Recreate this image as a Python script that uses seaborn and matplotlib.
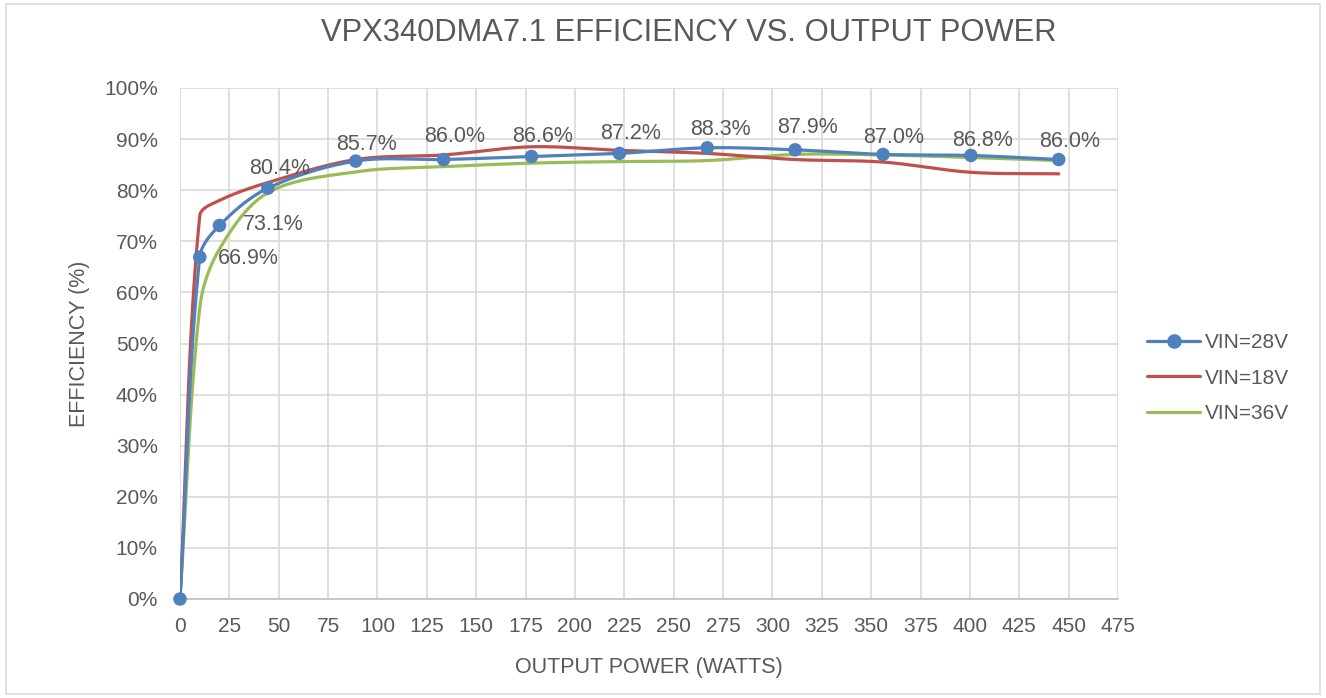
import numpy as np
import pandas as pd
import matplotlib
matplotlib.use('Agg')
import matplotlib.pyplot as plt
import seaborn as sns
from matplotlib.lines import Line2D
from matplotlib.patches import Rectangle
from matplotlib.ticker import FuncFormatter, MultipleLocator

# values
power = [0, 10, 20, 44.5, 89, 133.5, 178, 222.5, 267, 311.5, 356, 400.5, 445]
eff_28v = [0, 66.9, 73.1, 80.4, 85.7, 86.0, 86.6, 87.2, 88.3, 87.9, 87.0, 86.8, 86.0]
eff_18v = [0, 75.0, 78.0, 81.5, 86.0, 86.9, 88.5, 87.8, 87.2, 86.0, 85.5, 83.5, 83.2]
eff_36v = [0, 57.0, 68.5, 79.5, 83.6, 84.6, 85.3, 85.6, 85.8, 87.0, 86.9, 86.4, 85.8]
series_names = ['VIN=28V', 'VIN=18V', 'VIN=36V']
colors = ['#4F81BD', '#C0504D', '#9BBB59']

# label placement for the 28V data labels (pixel offsets from each point)
label_dx = [None, 18, 23, 12, 11, 11, 11, 11, 13, 12, 11, 12, 11]
label_dy = [None, -1, 1, 20, 17, 23, 20, 20, 18, 22, 17, 15, 18]
label_ha = [None, 'left', 'left', 'center', 'center', 'center', 'center', 'center',
            'center', 'center', 'center', 'center', 'center']

TEXT = '#595959'
PX_X = 1.974   # pixels per watt
PX_Y = 5.11    # pixels per percent


def smooth(xs, ys, n=40):
    # excel-ish smoothed line, bezier with tangents scaled by segment length (screen space)
    p = np.column_stack([np.array(xs) * PX_X, np.array(ys) * PX_Y]).astype(float)
    pts = np.vstack([p[0], p, p[-1]])
    t = np.linspace(0, 1, n)[:, None]
    segs = []
    for i in range(1, len(pts) - 2):
        p0, p1, p2, p3 = pts[i - 1], pts[i], pts[i + 1], pts[i + 2]
        d01 = np.linalg.norm(p1 - p0)
        d12 = np.linalg.norm(p2 - p1)
        d23 = np.linalg.norm(p3 - p2)
        b1 = p1 + (p2 - p0) * d12 / (d01 + d12) / 3
        b2 = p2 - (p3 - p1) * d12 / (d12 + d23) / 3
        seg = (1 - t) ** 3 * p1 + 3 * (1 - t) ** 2 * t * b1 + 3 * (1 - t) * t ** 2 * b2 + t ** 3 * p2
        segs.append(seg if i == 1 else seg[1:])
    out = np.vstack(segs)
    return out[:, 0] / PX_X, out[:, 1] / PX_Y


def main():
    sns.set_style('white')
    plt.rcParams['font.family'] = ['Liberation Sans', 'DejaVu Sans']

    frames = []
    for name, vals in zip(series_names, [eff_28v, eff_18v, eff_36v]):
        sx, sy = smooth(power, vals)
        frames.append(pd.DataFrame({'power': sx, 'eff': sy, 'series': name}))
    df = pd.concat(frames, ignore_index=True)

    fig = plt.figure(figsize=(13.26, 6.98), dpi=100)
    ax = fig.add_axes([180 / 1326, 1 - 599 / 698, (1118 - 180) / 1326, (599 - 88) / 698])

    # draw order: 28V on top
    for name, c in zip(series_names[::-1], colors[::-1]):
        sub = df[df['series'] == name]
        sns.lineplot(data=sub, x='power', y='eff', sort=False, estimator=None,
                     color=c, linewidth=2.3, ax=ax, legend=False, zorder=3)
    pts = pd.DataFrame({'power': power, 'eff': eff_28v})
    sns.scatterplot(data=pts, x='power', y='eff', color=colors[0], s=95,
                    edgecolor='none', ax=ax, zorder=5, legend=False, clip_on=False)

    for i, (x, y) in enumerate(zip(power, eff_28v)):
        if label_dx[i] is None:
            continue
        ax.annotate(f'{y:.1f}%', (x, y), xytext=(label_dx[i], label_dy[i]),
                    textcoords='offset pixels', ha=label_ha[i], va='center',
                    fontsize=15.5, color=TEXT, zorder=6)

    ax.set_xlim(0, 475)
    ax.set_ylim(0, 100)
    ax.xaxis.set_major_locator(MultipleLocator(25))
    ax.yaxis.set_major_locator(MultipleLocator(10))
    ax.yaxis.set_major_formatter(FuncFormatter(lambda v, _: f'{v:.0f}%'))
    ax.grid(True, color='#D9D9D9', linewidth=1.2)
    ax.set_axisbelow(True)
    for side in ['top', 'right', 'left']:
        ax.spines[side].set_visible(False)
    ax.spines['bottom'].set_color('#BFBFBF')
    ax.spines['bottom'].set_linewidth(1.2)
    ax.tick_params(axis='both', length=0, labelsize=15, labelcolor=TEXT)
    ax.tick_params(axis='y', pad=16)
    ax.tick_params(axis='x', pad=13)

    ax.set_xlabel('OUTPUT POWER (WATTS)', fontsize=15.5, color=TEXT, labelpad=15)
    ax.set_ylabel('EFFICIENCY (%)', fontsize=15.5, color=TEXT, labelpad=10)
    fig.text(689 / 1326, 1 - 33 / 698, 'VPX340DMA7.1 EFFICIENCY VS. OUTPUT POWER',
             ha='center', va='center', fontsize=22.2, color=TEXT)

    handles = [Line2D([], [], color=colors[0], linewidth=2.3, marker='o', markersize=9.5),
               Line2D([], [], color=colors[1], linewidth=2.3),
               Line2D([], [], color=colors[2], linewidth=2.3)]
    fig.legend(handles, series_names, loc='center left', bbox_to_anchor=(1147 / 1326, 1 - 378 / 698),
               frameon=False, fontsize=15, labelcolor=TEXT, handlelength=2.55,
               handletextpad=0.25, labelspacing=0.8, borderpad=0, borderaxespad=0)

    fig.patches.append(Rectangle((6 / 1326, 4 / 698), 1314 / 1326, 690 / 698,
                                 transform=fig.transFigure, fill=False,
                                 edgecolor='#D9D9D9', linewidth=1.2))

    fig.savefig('out.png', dpi=100)


if __name__ == '__main__':
    main()
